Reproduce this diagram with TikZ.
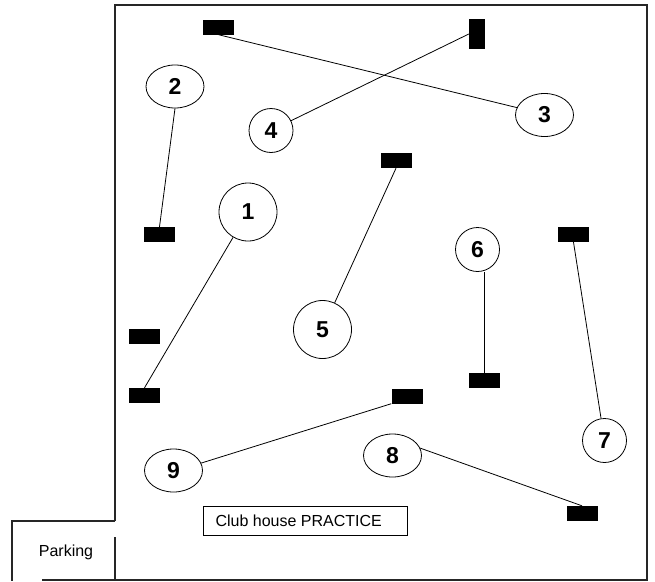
\documentclass[tikz,border=0pt]{standalone}
\usepackage{fontspec}
\setmainfont{Liberation Sans}
\usetikzlibrary{shapes.geometric}
\begin{document}
\begin{tikzpicture}[x=1pt,y=-1pt,
  frame/.style={draw=black!85,line width=1.1pt},
  conn/.style={draw=black,line width=0.8pt},
  teeh/.style={fill=black,draw=none,minimum width=31pt,minimum height=15pt,inner sep=0pt},
  teev/.style={fill=black,draw=none,minimum width=16pt,minimum height=30pt,inner sep=0pt},
  hole/.style={ellipse,draw=black,line width=0.8pt,inner sep=0pt,minimum width=58pt,minimum height=43pt,font=\fontsize{23}{23}\selectfont\bfseries},
  holec/.style={hole,minimum width=44pt,minimum height=44pt},
  holeb/.style={hole,minimum width=58pt,minimum height=58pt},
  label/.style={font=\fontsize{16}{16}\selectfont}
]
\useasboundingbox (0,0) rectangle (655,581);
% frame
\coordinate (tl) at (115,5);
\coordinate (tr) at (647,5);
\coordinate (br) at (647,580);
\coordinate (bl) at (42,580);
\coordinate (lc) at (115,521);
\coordinate (pc) at (12,521);
\coordinate (pb) at (12,581);
\coordinate (it) at (115,537);
\coordinate (ib) at (115,580);
\draw[frame] (lc) -- (tl) -- (tr) -- (br) -- (bl);
\draw[frame] (lc) -- (pc) -- (pb);
\draw[frame] (it) -- (ib);
% tees
\node[teeh] (teeA) at (218.5,27) {};
\node[teev] (tee4) at (477,34) {};
\node[teeh] (tee2) at (159.5,234.5) {};
\node[teeh] (teeX) at (144.5,336.5) {};
\node[teeh] (tee1) at (144.5,395.5) {};
\node[teeh] (tee5) at (396,160.5) {};
\node[teeh] (tee7) at (573.5,234.5) {};
\node[teeh] (tee6) at (484.5,380.5) {};
\node[teeh] (tee9) at (407,396) {};
\node[teeh] (tee8) at (582,513.5) {};
% holes
\node[hole] (e2) at (175,86.5) {2};
\node[holec] (e4) at (271,130.5) {4};
\node[hole] (e3) at (544.5,115) {3};
\node[holeb] (e1) at (248,212) {1};
\node[holeb] (e5) at (322.5,329.5) {5};
\node[holec] (e6) at (477.5,249.5) {6};
\node[holec] (e7) at (604.5,440.5) {7};
\node[hole] (e8) at (392.5,455.5) {8};
\node[hole] (e9) at (173.5,470.5) {9};
% connectors
\draw[conn] (teeA.south) -- (e3.165);
\draw[conn] (tee4.west) -- (e4);
\draw[conn] (e2.south) -- (tee2.north);
\draw[conn] (e1) -- (tee1.north);
\draw[conn] (e5) -- (tee5.south);
\draw[conn] (tee6.north) -- (tee6.north |- e6.south);
\draw[conn] (tee7.south) -- (e7);
\draw[conn] (e9.15) -- (tee9.south west);
\draw[conn] (e8.15) -- (tee8.north);
% labels
\node[label,draw=black,line width=0.8pt,minimum width=204pt,minimum height=29pt,inner sep=0pt,anchor=west] (club) at (202.5,521) {};
\node[label,anchor=west] (clubtext) at (212,521) {Club house PRACTICE};
\node[label] (park) at (66,552) {Parking};
\end{tikzpicture}
\end{document}
